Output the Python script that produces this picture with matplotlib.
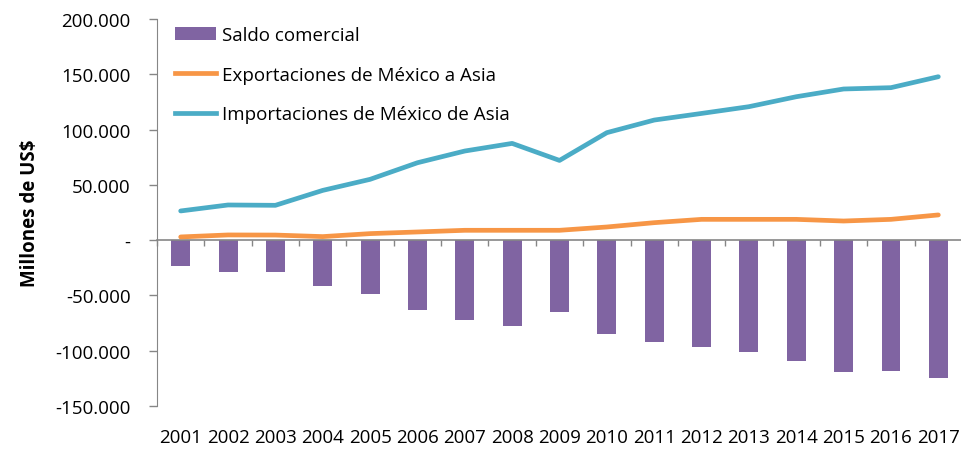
import numpy as np
import matplotlib.pyplot as plt
from matplotlib.patches import Patch
from matplotlib.lines import Line2D
from matplotlib.ticker import FuncFormatter

# Data (millones de US$)
years = [str(y) for y in range(2001, 2018)]
exportaciones = [2900, 4700, 4600, 3200, 5900, 7400, 8900, 8900, 8900,
                 11900, 15800, 18800, 18800, 18800, 17300, 18800, 22800]
importaciones = [26400, 31800, 31500, 45000, 55000, 70000, 80600, 87500, 72100,
                 97200, 108600, 114600, 120700, 129700, 136700, 137900, 147800]
saldo = [-23000, -28500, -28500, -41700, -48900, -63000, -72000, -77700, -64800,
         -84900, -92100, -96300, -100800, -109500, -119400, -118200, -125100]

purple = '#8064A2'
orange = '#F79646'
blue = '#4BACC6'
gray = '#868686'

plt.rcParams['font.family'] = ['Open Sans', 'DejaVu Sans']

fig = plt.figure(figsize=(9.62, 4.52), dpi=100)
ax = fig.add_axes([157 / 962, 1 - 407 / 452, 805 / 962, 387 / 452])

x = np.arange(len(years))
ax.bar(x, saldo, width=0.4, color=purple, zorder=2)
ax.plot(x, exportaciones, color=orange, lw=3.4, solid_capstyle='round', zorder=3)
ax.plot(x, importaciones, color=blue, lw=3.4, solid_capstyle='round', zorder=3)

ax.set_xlim(-0.5, len(years) - 0.5)
ax.set_ylim(-150000, 200000)
ax.set_yticks(np.arange(-150000, 200001, 50000))


def miles(v, pos):
    if v == 0:
        return '-'
    return f'{v:,.0f}'.replace(',', '.')


ax.yaxis.set_major_formatter(FuncFormatter(miles))
ax.tick_params(axis='y', length=6, width=1, color=gray, pad=13, labelsize=13.5)

# zero line with category boundary ticks
for s in ['top', 'right']:
    ax.spines[s].set_visible(False)
ax.spines['left'].set_color(gray)
ax.spines['bottom'].set_position(('data', 0))
ax.spines['bottom'].set_color(gray)
ax.spines['bottom'].set_linewidth(1.2)
ax.set_xticks(np.arange(-0.5, len(years), 1.0))
ax.tick_params(axis='x', length=4, width=1, color=gray, labelbottom=False)

# year labels at the bottom of the plot area
sec = ax.secondary_xaxis('bottom')
sec.set_xticks(x, years)
sec.spines['bottom'].set_visible(False)
sec.tick_params(length=0, pad=16, labelsize=13.5)

ax.set_ylabel('Millones de US$', fontsize=13.5, fontweight='bold')
ax.yaxis.set_label_coords(-0.1453, 0.5)

handles = [
    Patch(facecolor=purple, edgecolor='none'),
    Line2D([], [], color=orange, lw=3.4),
    Line2D([], [], color=blue, lw=3.4),
]
labels = ['Saldo comercial', 'Exportaciones de México a Asia',
          'Importaciones de México de Asia']
ax.legend(handles, labels, loc='upper left', bbox_to_anchor=(175 / 962, 1 - 27 / 452),
          bbox_transform=fig.transFigure, frameon=False, fontsize=13.5,
          handlelength=2.2, handletextpad=0.3, labelspacing=1.15,
          borderpad=0, borderaxespad=0)

fig.savefig('out.png', dpi=100)
